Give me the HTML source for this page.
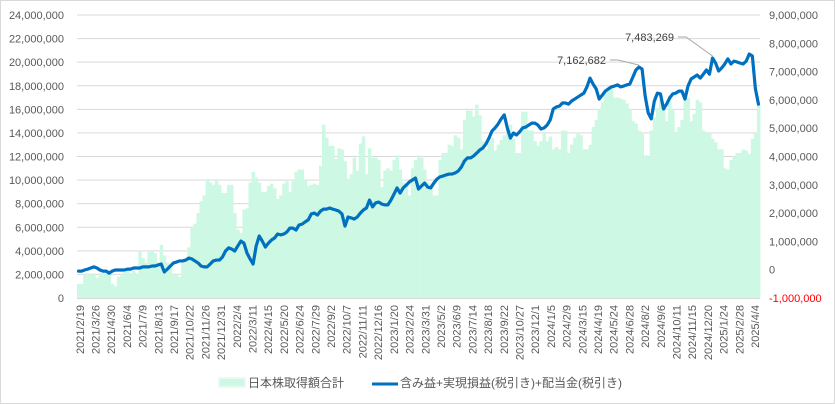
<!DOCTYPE html>
<html><head><meta charset="utf-8">
<style>
html,body{margin:0;padding:0;background:#fff;}
#wrap{position:relative;width:835px;height:404px;overflow:hidden;}
svg text{font-family:"Liberation Sans","Noto Sans CJK JP",sans-serif;}
</style></head>
<body>
<div id="wrap">
<svg id="chart" width="835" height="404" xmlns="http://www.w3.org/2000/svg">
<rect x="0.5" y="0.5" width="834" height="403" fill="#fff" stroke="#d9d9d9"/>
<g id="grid"></g>
<g id="bars"></g>
<g id="line"></g>
<g id="yleft"></g>
<g id="yright"></g>
<g id="xaxis"></g>
<g id="ann"></g>
<g>
<rect x="219" y="378" width="26" height="9" fill="#cdf8e3" stroke="#e8fbf2" stroke-width="2"/>
<text x="248" y="387" font-size="12" fill="#595959">日本株取得額合計</text>
<line x1="372" y1="384" x2="398" y2="384" stroke="#0070c0" stroke-width="3"/>
<text x="400" y="387" font-size="12" fill="#595959">含み益+実現損益(税引き)+配当金(税引き)</text>
</g>
</svg>
</div>
<script>
const tickLabels = ["2021/2/19","2021/3/26","2021/4/30","2021/6/4","2021/7/9","2021/8/13","2021/9/17","2021/10/22","2021/11/26","2021/12/31","2022/2/4","2022/3/11","2022/4/15","2022/5/20","2022/6/24","2022/7/29","2022/9/2","2022/10/7","2022/11/11","2022/12/16","2023/1/20","2023/2/24","2023/3/31","2023/5/2","2023/6/9","2023/7/14","2023/8/18","2023/9/22","2023/10/27","2023/12/1","2024/1/5","2024/2/9","2024/3/15","2024/4/19","2024/5/24","2024/6/28","2024/8/2","2024/9/6","2024/10/11","2024/11/15","2024/12/20","2025/1/24","2025/2/28","2025/4/4"];
const leftTicks = [0,2,4,6,8,10,12,14,16,18,20,22,24];
const rightTicks = [-1,0,1,2,3,4,5,6,7,8,9];
// 日本株取得額合計 (millions)
const barValues = [
1.2,1.2,2.0,2.1,2.0,2.1,1.7,2.1,2.1,2.0,
2.0,1.2,1.0,1.8,1.9,2.2,2.4,2.1,2.3,2.0,
4.0,3.4,3.0,3.9,4.0,3.8,3.0,4.5,3.6,3.0,
2.6,2.0,2.0,1.8,3.0,3.2,4.3,6.0,6.3,7.2,
8.2,8.7,10.1,9.8,9.6,10.1,9.6,8.9,8.9,9.6,
9.6,7.2,5.8,5.5,7.5,7.6,9.8,10.7,10.2,9.8,
9.0,9.0,9.5,9.7,9.3,8.4,8.7,9.7,9.9,9.0,
9.9,10.7,10.9,10.9,10.0,9.5,9.6,9.7,9.6,11.2,
14.7,13.6,12.9,12.9,11.8,12.7,12.6,11.6,10.1,10.5,
11.9,10.8,13.1,13.7,10.5,12.7,11.9,11.9,11.7,9.4,
10.8,11.0,10.8,11.7,12.1,10.9,9.8,9.6,8.7,11.0,
11.7,12.1,11.9,10.9,9.8,9.7,8.7,8.7,11.7,12.3,
12.3,13.0,12.9,13.8,13.6,12.6,15.1,15.9,15.9,15.4,
16.4,15.5,13.3,12.6,13.3,13.6,12.5,13.0,13.4,13.8,
14.3,14.7,13.5,12.3,12.3,15.8,15.8,14.2,14.2,13.3,
12.9,13.3,14.0,13.3,13.7,12.6,12.8,12.6,14.2,14.2,
12.3,13.0,13.6,14.0,13.8,12.6,12.6,13.0,14.5,15.1,
16.0,16.6,17.5,17.6,17.8,17.0,17.0,16.9,16.8,16.5,
16.0,15.0,14.8,14.2,14.0,12.1,12.0,14.2,15.3,16.1,
16.8,16.0,15.0,17.2,16.0,14.0,14.5,15.1,17.2,17.0,
15.0,15.6,16.8,16.6,14.2,14.0,14.0,13.5,13.2,12.6,
12.6,11.0,10.9,11.7,12.0,12.3,12.3,12.6,12.5,12.2,
13.5,14.0,16.4];
// 含み益+実現損益+配当金 (millions)
const lineValues = [
-0.05,-0.05,-0.01,0.02,0.06,0.10,0.06,-0.01,-0.05,-0.05,
-0.12,-0.05,-0.01,-0.01,-0.01,-0.01,0.02,0.02,0.06,0.06,
0.06,0.10,0.10,0.10,0.13,0.13,0.17,0.20,-0.08,0.02,
0.13,0.24,0.27,0.31,0.31,0.34,0.41,0.38,0.31,0.24,
0.13,0.10,0.10,0.20,0.31,0.34,0.34,0.45,0.66,0.77,
0.73,0.66,0.84,1.01,0.94,0.59,0.38,0.20,0.84,1.19,
1.01,0.80,0.94,1.05,1.12,1.26,1.23,1.26,1.33,1.47,
1.47,1.40,1.58,1.61,1.69,1.76,1.97,2.00,1.93,2.07,
2.14,2.14,2.18,2.14,2.11,2.07,1.97,1.54,1.86,1.83,
1.79,1.86,2.00,2.11,2.18,2.46,2.22,2.36,2.39,2.32,
2.29,2.29,2.46,2.67,2.89,2.71,2.89,2.99,3.10,3.17,
3.24,2.85,2.96,3.06,2.92,2.89,3.06,3.20,3.28,3.31,
3.35,3.38,3.38,3.42,3.49,3.63,3.84,3.95,3.95,4.02,
4.12,4.23,4.30,4.44,4.65,4.90,5.01,5.15,5.33,5.47,
5.01,4.65,4.83,4.76,4.87,5.01,5.04,5.11,5.18,5.18,
5.11,4.97,5.01,5.11,5.29,5.68,5.75,5.78,5.89,5.89,
5.85,5.96,6.03,6.10,6.17,6.24,6.46,6.77,6.56,6.39,
6.03,6.17,6.31,6.39,6.46,6.49,6.53,6.46,6.49,6.53,
6.56,6.81,7.06,7.16,7.09,6.14,5.54,5.33,5.96,6.24,
6.21,5.68,5.85,6.07,6.21,6.24,6.31,6.31,6.03,6.49,
6.74,6.81,6.88,6.77,6.91,7.06,6.91,7.48,7.30,7.02,
7.13,7.27,7.45,7.27,7.37,7.34,7.30,7.27,7.37,7.62,
7.55,6.39,5.85];

const NS = "http://www.w3.org/2000/svg";
const X0 = 77, X1 = 760, YB = 298, YT = 15;
const n = barValues.length;
const step = (X1 - X0) / n;
function xPos(i){ return X0 + step * (i + 0.5); }
function yLeft(v){ return YB - (v / 24) * (YB - YT); }
function yRight(v){ return YB - ((v + 1) / 10) * (YB - YT); }
function mk(tag, attrs, parent){
  const e = document.createElementNS(NS, tag);
  for (const k in attrs) e.setAttribute(k, attrs[k]);
  parent.appendChild(e);
  return e;
}
function fmt(m){ const v = Math.round(m * 1000000); return v.toLocaleString("en-US"); }

const grid = document.getElementById("grid");
leftTicks.forEach(t => {
  const y = yLeft(t);
  if (t > 0) {
    const l = mk("line", {x1: X0, x2: X1, y1: y, y2: y, stroke: "#d9d9d9", "stroke-width": 1}, grid);
    
    
  }
  const tx = mk("text", {x: 64, y: y + 4, "text-anchor": "end", "font-size": 11, fill: "#595959"}, document.getElementById("yleft"));
  tx.textContent = fmt(t);
  
  
});
rightTicks.forEach(t => {
  const y = yRight(t);
  const tx = mk("text", {x: 769, y: y + 4, "font-size": 11, fill: t < 0 ? "#ff0000" : "#595959"}, document.getElementById("yright"));
  tx.textContent = fmt(t);
  
  
});

const bars = document.getElementById("bars");
barValues.forEach((v, i) => {
  const y = yLeft(v);
  const r = mk("rect", {x: (X0 + step * i).toFixed(2), y: y.toFixed(2), width: (step + 0.4).toFixed(2), height: (YB - y).toFixed(2), fill: "#cdf8e3"}, bars);
  
  
});
const axisLine = mk("line", {x1: X0, x2: X1, y1: YB + 0.5, y2: YB + 0.5, stroke: "#d9d9d9"}, document.getElementById("xaxis"));



const pts = lineValues.map((v, i) => xPos(i).toFixed(2) + "," + yRight(v).toFixed(2)).join(" ");
const pl = mk("polyline", {points: pts, fill: "none", stroke: "#0070c0", "stroke-width": 3.2, "stroke-linejoin": "round", "stroke-linecap": "round"}, document.getElementById("line"));



const xa = document.getElementById("xaxis");
const tickStep = (X1 - X0) / 217.5;
tickLabels.forEach((lab, k) => {
  const x = X0 + (k * 5 + 0.9) * tickStep;
  const tx = mk("text", {x: 0, y: 0, "text-anchor": "end", "font-size": 11, fill: "#595959", transform: "translate(" + (x + 4).toFixed(1) + ",305) rotate(-90)"}, xa);
  tx.textContent = lab;
  
  
});

const ann = document.getElementById("ann");
[[183, 606, 60], [207, 674, 37]].forEach(a => {
  const i = a[0];
  const px = xPos(i), py = yRight(lineValues[i]);
  const l = mk("polyline", {points: (a[1] + 4) + "," + a[2] + " " + (a[1] + 12) + "," + a[2] + " " + px.toFixed(1) + "," + (py - 2).toFixed(1), fill: "none", stroke: "#a6a6a6", "stroke-width": 1}, ann);
  
  
  const t = mk("text", {x: a[1], y: a[2] + 4, "text-anchor": "end", "font-size": 11, fill: "#404040"}, ann);
  t.textContent = i === 183 ? "7,162,682" : "7,483,269";
  
  
});
</script>
</body></html>
